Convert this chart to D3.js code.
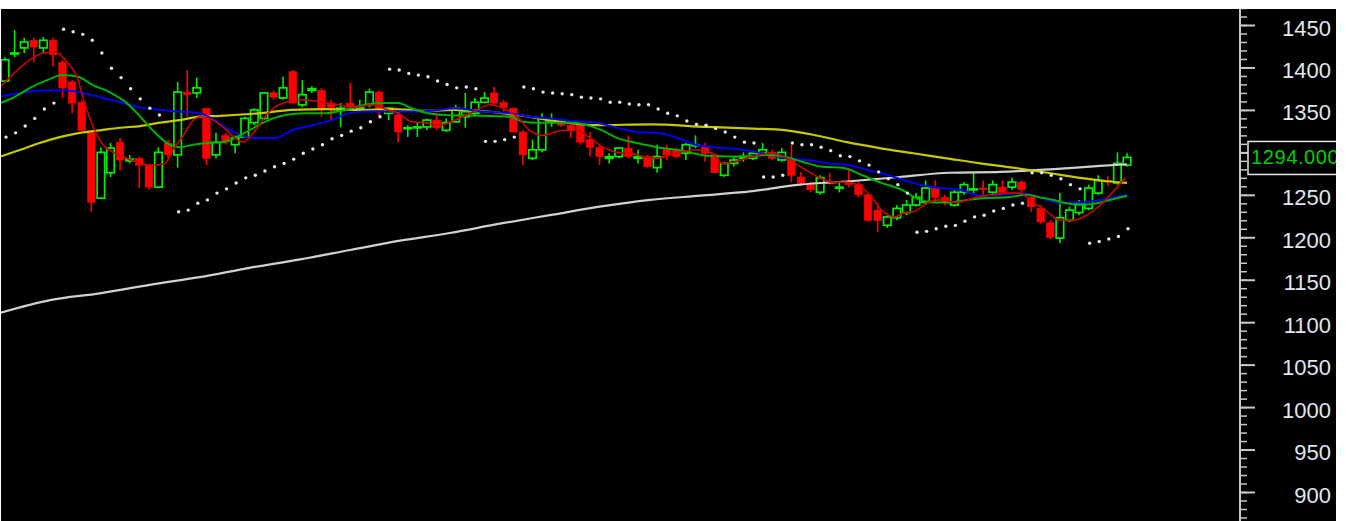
<!DOCTYPE html>
<html>
<head>
<meta charset="utf-8">
<script src="https://cdn.jsdelivr.net/npm/d3@7"></script>
<style>
  html, body { margin: 0; padding: 0; background: #fff; overflow: hidden; }
  svg { display: block; }
</style>
</head>
<body>
<svg id="chart" width="1346" height="521"></svg>
<script>
// Daily candles, [open, high, low, close]
const ohlc = [
  [1384,1412,1382,1409],[1416,1444,1412,1417],[1423,1435,1417,1430],[1432,1435,1406,1424],
  [1423,1436,1417,1432],[1432,1435,1401,1415],[1406,1409,1364,1376],[1383,1385,1346,1358],
  [1359,1362,1325,1326],[1323,1324,1230,1241],[1246,1306,1245,1300],[1276,1311,1271,1305],
  [1312,1317,1279,1291],[1290,1297,1287,1292],[1293,1295,1258,1285],[1285,1287,1256,1259],
  [1259,1306,1258,1300],[1311,1315,1293,1297],[1297,1383,1282,1371],[1371,1397,1342,1368],
  [1370,1388,1364,1376],[1352,1352,1285,1293],[1297,1323,1293,1312],[1320,1323,1309,1312],
  [1309,1320,1299,1317],[1318,1342,1317,1340],[1335,1352,1332,1350],[1340,1371,1338,1370],
  [1370,1373,1362,1365],[1364,1389,1362,1376],[1395,1397,1358,1358],[1356,1385,1353,1368],
  [1373,1378,1370,1375],[1373,1376,1342,1352],[1358,1362,1338,1353],[1350,1358,1330,1352],
  [1358,1382,1352,1353],[1351,1362,1350,1353],[1356,1375,1353,1371],[1371,1373,1342,1350],
  [1346,1353,1338,1352],[1344,1346,1312,1324],[1328,1332,1318,1329],[1329,1335,1318,1330],
  [1330,1340,1326,1338],[1338,1344,1326,1329],[1326,1340,1324,1335],[1336,1356,1335,1352],
  [1342,1370,1329,1348],[1346,1364,1342,1359],[1359,1371,1358,1364],[1370,1377,1356,1358],
  [1359,1362,1348,1353],[1352,1353,1324,1324],[1324,1326,1285,1297],[1293,1315,1291,1303],
  [1303,1346,1300,1340],[1337,1346,1330,1338],[1336,1338,1330,1332],[1332,1335,1317,1326],
  [1332,1335,1309,1312],[1315,1324,1295,1306],[1306,1309,1285,1295],[1293,1299,1287,1295],
  [1295,1306,1293,1305],[1305,1320,1293,1295],[1293,1303,1287,1295],[1295,1297,1282,1283],
  [1282,1309,1276,1295],[1303,1309,1291,1297],[1303,1305,1293,1295],[1299,1311,1291,1309],
  [1308,1320,1305,1309],[1306,1311,1289,1299],[1297,1299,1276,1276],[1273,1289,1271,1287],
  [1287,1295,1283,1291],[1293,1300,1289,1295],[1293,1300,1291,1299],[1299,1311,1297,1303],
  [1300,1303,1291,1293],[1291,1305,1289,1300],[1293,1309,1265,1273],[1271,1277,1262,1264],
  [1262,1265,1253,1256],[1253,1273,1250,1270],[1265,1276,1262,1264],[1258,1265,1253,1259],
  [1265,1282,1259,1262],[1262,1265,1247,1250],[1250,1252,1218,1220],[1232,1240,1206,1220],
  [1214,1226,1211,1224],[1223,1238,1220,1234],[1229,1244,1226,1238],[1238,1252,1236,1247],
  [1241,1267,1238,1258],[1259,1267,1240,1247],[1247,1250,1238,1241],[1238,1256,1236,1253],
  [1253,1265,1250,1262],[1256,1276,1252,1257],[1258,1267,1250,1256],[1253,1267,1251,1262],
  [1259,1267,1250,1253],[1259,1270,1256,1265],[1265,1267,1253,1256],[1247,1250,1230,1236],
  [1234,1238,1216,1218],[1217,1220,1198,1200],[1199,1252,1193,1223],[1220,1236,1218,1232],
  [1229,1244,1226,1240],[1234,1262,1232,1258],[1252,1273,1250,1267],[1267,1272,1260,1265],
  [1264,1300,1262,1287],[1285,1299,1283,1294]
];

// parabolic SAR, one per candle (null = not shown)
const sar = [
  1318,1323,1331,1340,1351,1358,
  1445,1442,1439,1432,1417,1399,1388,1375,1363,1352,1344,null,
  1230,1232,1240,1244,1252,1257,1264,1270,1273,1278,1283,1287,1292,1299,1304,1309,1316,1320,1325,1329,1336,1342,
  1398,1397,1393,1391,1389,1384,1380,1376,1377,1375,
  1313,1313,1315,1318,
  1377,1375,1371,1370,1369,1368,1365,1364,1363,1359,1359,1357,1356,1356,1351,1346,1343,1337,1333,1332,1328,1324,1318,1312,1311,
  1271,1271,1273,
  1311,1309,1309,1306,1302,1296,1295,1290,1285,1277,1269,1262,1252,
  1206,1207,1210,1213,1214,1219,1224,1226,1231,1234,1238,1240,
  1276,1276,1273,1269,1262,1257,
  1193,1195,1198,1201,1210
];

// moving averages, [bar index, price]
const maRed = [[-0.5,1377],[2.6,1409],[4,1417],[5.2,1418],[6.5,1406],[7.5,1389],[8.3,1358],[9.2,1330],
  [10.2,1309],[11.3,1300],[12.7,1293],[14.1,1287],[15.4,1285],[16.7,1287],[17.5,1303],[18.6,1320],
  [19.5,1336],[20.5,1342],[21.7,1338],[22.7,1330],[24.8,1312],[26.1,1326],[27.4,1346],[29,1358],
  [31,1362],[33.1,1359],[34.7,1356],[36.5,1353],[38.3,1356],[39.9,1350],[41,1346],[42.4,1336],
  [43.8,1335],[45.2,1332],[46.9,1338],[48.5,1346],[50.6,1356],[51.9,1352],[53.4,1342],[54.7,1326],
  [56.1,1320],[57.1,1323],[58.2,1326],[59.6,1326],[61,1317],[62.4,1306],[63.8,1300],[65.2,1299],
  [66.5,1295],[68,1293],[69.3,1297],[72,1303],[73.7,1299],[74.8,1287],[76.1,1289],[77.9,1295],
  [80,1299],[81.6,1293],[83.1,1282],[84.8,1271],[86.2,1265],[87.6,1265],[88.9,1262],[90.4,1247],
  [91.4,1232],[92.8,1224],[93.8,1229],[94.7,1230],[96.1,1240],[97.5,1244],[99.3,1241],[100.9,1246],
  [102.7,1250],[104.5,1252],[105.8,1252],[107.2,1241],[108.7,1230],[110,1220],[111.4,1220],
  [112.8,1226],[114.2,1238],[115.5,1253],[116.8,1270]];
const maGreen = [[-0.5,1358],[0.8,1364],[2.6,1376],[4.4,1385],[6,1391],[7.6,1389],[9.2,1379],[10.9,1371],
  [12.7,1358],[14.1,1342],[15.4,1326],[16.9,1311],[18.2,1306],[19.6,1309],[21.1,1311],[22.7,1312],
  [25,1323],[27.1,1336],[29.2,1344],[31.3,1346],[33.4,1346],[35.5,1350],[37.5,1356],[39.3,1358],
  [41,1358],[42.4,1352],[44.1,1346],[45.9,1344],[49.8,1343],[52.7,1342],[54,1336],[55.5,1335],
  [58.9,1335],[61.3,1330],[62.8,1323],[63.8,1317],[65.9,1311],[68,1306],[70.1,1303],[73.3,1296],
  [76.9,1295],[79.6,1297],[81.3,1295],[83.1,1289],[85.2,1283],[87.3,1282],[89.4,1273],[91.4,1264],
  [93.5,1256],[95.4,1244],[96.8,1241],[98.5,1241],[100.3,1244],[102,1246],[104.5,1247],[106.6,1250],
  [107.9,1247],[109.3,1244],[110.7,1240],[112.1,1238],[113.9,1240],[115.2,1244],[117,1249]];
const maBlue = [[-0.5,1366],[1.6,1370],[3.6,1373],[6.5,1373],[8.1,1370],[9.9,1365],[12,1359],[14.1,1353],
  [16.2,1350],[18.2,1348],[20.3,1346],[22.1,1336],[23.5,1326],[25.8,1317],[28.2,1317],[29.9,1326],
  [32,1332],[34.1,1338],[35.8,1346],[37.5,1348],[40.4,1348],[42.4,1348],[44.5,1349],[46.9,1352],
  [49.8,1348],[52.7,1346],[54.7,1342],[56.8,1340],[60.3,1336],[61.7,1335],[63.8,1329],[65.9,1324],
  [68,1323],[70.1,1317],[72,1309],[74,1306],[76.9,1303],[78.9,1299],[81.6,1293],[83.7,1291],
  [85.8,1287],[87.9,1285],[90,1279],[92.1,1273],[93.8,1267],[95.4,1262],[97.5,1258],[99.6,1256],
  [101.7,1249],[103.8,1250],[105.8,1252],[107.9,1247],[110,1241],[112.1,1241],[114.2,1244],[117,1250]];
const maYellow = [[-0.5,1295],[1.6,1303],[3.6,1311],[5.7,1318],[7.8,1323],[9.9,1326],[12,1329],[14.1,1331],
  [16.2,1335],[18.2,1338],[20.3,1342],[22.4,1343],[26.4,1346],[29.9,1350],[33.4,1351],[36.8,1350],
  [40.4,1351],[43.8,1349],[46.9,1350],[53.4,1344],[56.8,1338],[61.7,1332],[67.3,1333],[73.2,1330],
  [78,1328],[81.5,1326],[85,1319],[87.8,1312],[91.2,1305],[94.7,1299],[98.2,1293],[101.7,1287],
  [105.1,1282],[108.7,1276],[112.1,1270],[114.9,1266],[117,1264]];
const maWhite = [[-0.5,1111],[4.7,1126],[9.9,1134],[15.1,1144],[20.3,1153],[25.5,1164],[30.8,1174],
  [36,1185],[41.2,1196],[46.4,1205],[51.6,1216],[56.8,1226],[62,1236],[67.3,1244],[72.5,1249],
  [77.7,1254],[82.9,1262],[88.1,1266],[93.3,1271],[98.5,1276],[103.8,1277],[109,1280],[114.2,1284],[117,1286]];

const yMajor = [900, 950, 1000, 1050, 1100, 1150, 1200, 1250, 1300, 1350, 1400, 1450];
const yMinor = [870,880,890,900,910,920,930,940,950,960,970,980,990,1000,1010,1020,1030,1040,1050,
  1060,1070,1080,1090,1100,1110,1120,1130,1140,1150,1160,1170,1180,1190,1200,1210,1220,1230,1240,
  1250,1260,1270,1280,1290,1300,1310,1320,1330,1340,1350,1360,1370,1380,1390,1400,1410,1420,1430,
  1440,1450,1460,1470];
const lastPrice = 1294;

var svg = d3.select("#chart");
const axisX = 1240;

var xScale = d3.scaleLinear().domain([0, ohlc.length - 1]).range([5, 1127]);
var yScale = d3.scaleLinear().domain([900, 1450]).range([492, 25]);

// black panel
svg.append("rect").attr("x", 1).attr("y", 9).attr("width", 1335).attr("height", 512).attr("fill", "#000");

svg.append("defs").append("clipPath").attr("id", "plotClip")
    .append("rect").attr("x", 1).attr("y", 9).attr("width", 1237).attr("height", 512);

var plot = svg.append("g").attr("clip-path", "url(#plotClip)");

// Candles
const bodyW = 7.5;
const upCol = "#00ee00", downCol = "#ff0000";
const bars = ohlc.map((d, i) => ({ i: i, o: d[0], h: d[1], l: d[2], c: d[3], up: d[3] >= d[0] }));

var candle = plot.selectAll(".candle").data(bars).join("g").attr("class", "candle");

// wicks (upper and lower part, so hollow bodies stay empty)
candle.append("line")
    .attr("x1", d => xScale(d.i)).attr("x2", d => xScale(d.i))
    .attr("y1", d => yScale(d.h)).attr("y2", d => yScale(Math.max(d.o, d.c)))
    .attr("stroke", d => d.up ? upCol : downCol).attr("stroke-width", 1.6);
candle.append("line")
    .attr("x1", d => xScale(d.i)).attr("x2", d => xScale(d.i))
    .attr("y1", d => yScale(Math.min(d.o, d.c))).attr("y2", d => yScale(d.l))
    .attr("stroke", d => d.up ? upCol : downCol).attr("stroke-width", 1.6);

candle.append("rect")
    .attr("x", d => xScale(d.i) - bodyW / 2)
    .attr("y", d => yScale(Math.max(d.o, d.c)))
    .attr("width", bodyW)
    .attr("height", d => Math.max(1, yScale(Math.min(d.o, d.c)) - yScale(Math.max(d.o, d.c))))
    .attr("fill", d => d.up ? "#000" : downCol)
    .attr("stroke", d => d.up ? upCol : downCol)
    .attr("stroke-width", d => d.up ? 1.7 : 0.6);

// Moving averages
var maLine = d3.line()
    .x(d => xScale(d[0]))
    .y(d => yScale(d[1]))
    .curve(d3.curveMonotoneX);

const maSeries = [
    { data: maWhite, color: "#d0d0d0", w: 2.2 },
    { data: maYellow, color: "#c8c800", w: 2.2 },
    { data: maBlue, color: "#0000f0", w: 2 },
    { data: maGreen, color: "#00b000", w: 2 },
    { data: maRed, color: "#d00000", w: 1.6 }
];
maSeries.forEach(function (s) {
    plot.append("path")
        .datum(s.data)
        .attr("d", maLine)
        .attr("fill", "none")
        .attr("stroke", s.color)
        .attr("stroke-width", s.w);
});

// SAR dots
plot.selectAll(".sar")
    .data(sar.map((v, i) => [i, v]).filter(d => d[1] != null))
    .join("circle")
    .attr("class", "sar")
    .attr("cx", d => xScale(d[0]) + 1)
    .attr("cy", d => yScale(d[1]))
    .attr("r", 1.7)
    .attr("fill", "#e6e6e6");

// Price axis
svg.append("line")
    .attr("x1", axisX).attr("x2", axisX).attr("y1", 9).attr("y2", 521)
    .attr("stroke", "#c8c8c8").attr("stroke-width", 2);

var minorAxis = svg.append("g")
    .attr("transform", `translate(${axisX}, 0)`)
    .call(d3.axisRight(yScale).tickValues(yMinor).tickSize(7).tickFormat(""));
minorAxis.select(".domain").remove();
minorAxis.selectAll("line").attr("stroke", "#c8c8c8").attr("stroke-width", 1.5);

// the 1300 label sits under the last-price box, so it is not shown
var majorAxis = svg.append("g")
    .attr("transform", `translate(${axisX}, 0)`)
    .call(d3.axisRight(yScale).tickValues(yMajor).tickSize(15)
        .tickFormat(d => Math.abs(d - lastPrice) < 20 ? "" : d3.format("d")(d)));
majorAxis.select(".domain").remove();
majorAxis.selectAll("line").attr("stroke", "#c8c8c8").attr("stroke-width", 2);
majorAxis.selectAll("text")
    .attr("x", 1331 - axisX)
    .attr("y", 3)
    .attr("text-anchor", "end")
    .attr("fill", "#e2e4ee")
    .style("font-family", "'Liberation Sans', Arial, sans-serif")
    .style("font-size", "22px");

// Last price box
const py = yScale(lastPrice);
svg.append("rect")
    .attr("x", 1248).attr("y", py - 16).attr("width", 100).attr("height", 33)
    .attr("fill", "#000").attr("stroke", "#e8e8e8").attr("stroke-width", 1.5);
svg.append("text")
    .attr("x", 1251).attr("y", py).attr("dy", "0.35em")
    .attr("fill", "#00d000")
    .style("font-family", "'Liberation Sans', Arial, sans-serif")
    .style("font-size", "20px")
    .style("letter-spacing", "0.6px")
    .text(lastPrice.toFixed(3));

// white frame bits of the screenshot
svg.append("rect").attr("x", 1336).attr("y", 0).attr("width", 10).attr("height", 521).attr("fill", "#fff");
svg.append("rect").attr("x", 0).attr("y", 0).attr("width", 1346).attr("height", 9).attr("fill", "#fff");
</script>
</body>
</html>
